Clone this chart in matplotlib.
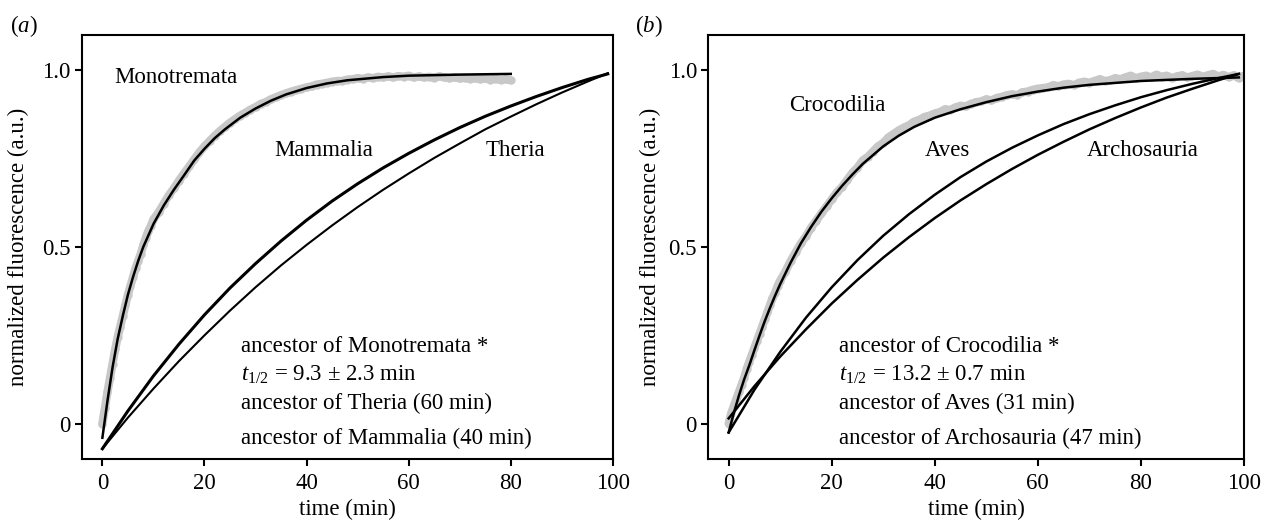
import matplotlib
matplotlib.use("Agg")
import matplotlib.pyplot as plt
import numpy as np

plt.rcParams['font.family'] = ['Liberation Serif', 'DejaVu Serif']
plt.rcParams['mathtext.fontset'] = 'custom'
plt.rcParams['mathtext.rm'] = 'Liberation Serif'
plt.rcParams['mathtext.it'] = 'Liberation Serif:italic'
FS = 16.5
plt.rcParams['font.size'] = FS

# ---- panel (a) ----
mono_t = [0, 0.5, 1, 1.5, 2, 2.5, 3, 3.5, 4, 4.5, 5, 5.5, 6, 6.5, 7, 7.5, 8, 8.5, 9, 9.5, 10,
          11, 12, 13, 14, 15, 16, 17, 18, 19, 20, 21, 22, 23, 24, 25, 26, 27, 28, 29, 30,
          31, 32, 33, 34, 35, 36, 37, 38, 39, 40, 41, 42, 43, 44, 45, 46, 47, 48, 49, 50,
          51, 52, 53, 54, 55, 56, 57, 58, 59, 60, 61, 62, 63, 64, 65, 66, 67, 68, 69, 70,
          71, 72, 73, 74, 75, 76, 77, 78, 79, 80]
mono_y = [0.00, 0.045, 0.09, 0.13, 0.17, 0.21, 0.245, 0.275, 0.305, 0.335, 0.365, 0.39, 0.415,
          0.44, 0.46, 0.48, 0.505, 0.525, 0.545, 0.56, 0.578,
          0.598, 0.622, 0.646, 0.666, 0.688, 0.708, 0.728, 0.748, 0.768, 0.785, 0.80, 0.815,
          0.828, 0.84, 0.852, 0.862, 0.872, 0.88, 0.889, 0.896, 0.905, 0.91, 0.918, 0.924,
          0.93, 0.935, 0.94, 0.944, 0.948, 0.952, 0.955, 0.96, 0.962, 0.965, 0.968, 0.97,
          0.97, 0.974, 0.975, 0.978, 0.976, 0.98, 0.978, 0.982, 0.98, 0.983, 0.98, 0.984,
          0.982, 0.985, 0.98, 0.983, 0.98, 0.982, 0.979, 0.983, 0.98, 0.978, 0.98, 0.977,
          0.979, 0.976, 0.978, 0.975, 0.977, 0.974, 0.976, 0.973, 0.975, 0.972]

mono_fit_t = [0, 1, 2, 3, 4, 5, 6, 7, 8, 10, 12, 14, 16, 18, 20, 22, 24, 27, 30, 33, 36,
              40, 44, 48, 55, 60, 70, 80]
mono_fit_y = [-0.04, 0.065, 0.16, 0.24, 0.305, 0.365, 0.415, 0.46, 0.50, 0.565, 0.617, 0.662,
              0.703, 0.745, 0.778, 0.808, 0.833, 0.866, 0.892, 0.914, 0.932, 0.95, 0.963,
              0.972, 0.981, 0.985, 0.988, 0.99]

anc_t = [0, 5, 10, 15, 20, 25, 30, 35, 40, 45, 50, 55, 60, 65, 70, 75, 80, 85, 90, 95, 99]
mammalia_y = [-0.071, 0.036, 0.135, 0.225, 0.308, 0.384, 0.453, 0.517, 0.576, 0.630, 0.679,
              0.724, 0.765, 0.803, 0.838, 0.870, 0.899, 0.926, 0.951, 0.974, 0.990]
theria_y = [-0.071, 0.017, 0.099, 0.177, 0.250, 0.320, 0.386, 0.448, 0.506, 0.561, 0.613,
            0.662, 0.708, 0.752, 0.793, 0.833, 0.869, 0.904, 0.937, 0.968, 0.992]

# ---- panel (b) ----
croc_t = [0, 0.5, 1, 1.5, 2, 2.5, 3, 3.5, 4, 4.5, 5, 5.5, 6, 6.5, 7, 7.5, 8, 8.5, 9, 9.5, 10,
          11, 12, 13, 14, 15, 16, 17, 18, 19, 20, 21, 22, 23, 24, 25, 26, 27, 28, 29, 30,
          31, 32, 33, 34, 35, 36, 37, 38, 39, 40, 41, 42, 43, 44, 45, 46, 47, 48, 49, 50,
          51, 52, 53, 54, 55, 56, 57, 58, 59, 60, 61, 62, 63, 64, 65, 66, 67, 68, 69, 70,
          71, 72, 73, 74, 75, 76, 77, 78, 79, 80, 81, 82, 83, 84, 85, 86, 87, 88, 89, 90,
          91, 92, 93, 94, 95, 96, 97, 98, 99, 99.5]
croc_y = [0.00, 0.03, 0.05, 0.07, 0.09, 0.11, 0.13, 0.155, 0.175, 0.195, 0.215, 0.235, 0.255,
          0.275, 0.295, 0.315, 0.335, 0.355, 0.37, 0.39, 0.405,
          0.43, 0.46, 0.485, 0.51, 0.53, 0.555, 0.575, 0.595, 0.615, 0.635, 0.655, 0.67,
          0.69, 0.71, 0.725, 0.745, 0.755, 0.77, 0.785, 0.795, 0.81, 0.82, 0.83, 0.838,
          0.845, 0.855, 0.86, 0.868, 0.872, 0.878, 0.882, 0.89, 0.888, 0.895, 0.90, 0.898,
          0.905, 0.91, 0.912, 0.918, 0.915, 0.922, 0.925, 0.93, 0.932, 0.93, 0.938, 0.94,
          0.945, 0.948, 0.95, 0.952, 0.958, 0.955, 0.96, 0.962, 0.958, 0.965, 0.968, 0.965,
          0.97, 0.975, 0.97, 0.972, 0.978, 0.975, 0.98, 0.985, 0.978, 0.982, 0.985, 0.98,
          0.988, 0.982, 0.985, 0.978, 0.983, 0.986, 0.98, 0.984, 0.988, 0.982, 0.986, 0.99,
          0.983, 0.987, 0.981, 0.986, 0.978, 0.983]

croc_fit_t = [0, 1, 2, 3, 4, 5, 6, 7, 8, 9, 10, 12, 14, 16, 18, 20, 22, 24, 26, 28, 30, 33,
              36, 40, 45, 50, 55, 60, 65, 70, 80, 90, 99]
croc_fit_y = [-0.025, 0.03, 0.08, 0.125, 0.165, 0.208, 0.25, 0.29, 0.327, 0.362, 0.395, 0.455,
              0.51, 0.557, 0.60, 0.638, 0.673, 0.705, 0.735, 0.76, 0.785, 0.815, 0.84, 0.866,
              0.89, 0.91, 0.927, 0.94, 0.951, 0.959, 0.97, 0.976, 0.98]

aves_y = [-0.025, 0.096, 0.203, 0.300, 0.386, 0.463, 0.532, 0.593, 0.648, 0.698, 0.742,
          0.781, 0.816, 0.848, 0.876, 0.901, 0.924, 0.944, 0.962, 0.978, 0.990]
archo_y = [0.015, 0.106, 0.190, 0.267, 0.340, 0.407, 0.470, 0.528, 0.582, 0.632, 0.678,
           0.721, 0.761, 0.798, 0.833, 0.865, 0.895, 0.923, 0.948, 0.972, 0.990]

gray = '#c8c8c8'

fig = plt.figure(figsize=(12.61, 5.23), dpi=100)
ax1 = fig.add_axes([0.065, 0.1224, 0.421, 0.8106])
ax2 = fig.add_axes([0.5615, 0.1224, 0.425, 0.8106])


def style(ax, ylab_x):
    ax.set_xlim(-4, 100)
    ax.set_ylim(-0.1, 1.1)
    ax.set_xticks([0, 20, 40, 60, 80, 100])
    ax.set_yticks([0, 0.5, 1.0])
    ax.set_yticklabels(['0', '0.5', '1.0'])
    for s in ax.spines.values():
        s.set_linewidth(1.5)
    ax.tick_params(direction='out', length=5, width=1.5, labelsize=FS)
    ax.tick_params(axis='x', pad=5)
    ax.tick_params(axis='y', pad=3)
    ax.set_xlabel('time (min)', fontsize=FS)
    ax.set_ylabel('normalized fluorescence (a.u.)', fontsize=FS)
    ax.xaxis.set_label_coords(0.5, -0.095)
    ax.yaxis.set_label_coords(ylab_x, 0.5)


# (a)
ax1.plot(mono_t, mono_y, color=gray, lw=6, solid_capstyle='round', zorder=1)
ax1.plot(mono_t, mono_y, 'o', color=gray, ms=6, mec='none', zorder=1)
ax1.plot(mono_fit_t, mono_fit_y, color='black', lw=1.8, zorder=3)
ax1.plot(anc_t, mammalia_y, color='black', lw=2.2, zorder=3)
ax1.plot(anc_t, theria_y, color='black', lw=1.5, zorder=3)
style(ax1, -0.1)
ax1.text(2.4, 0.963, 'Monotremata', va='baseline')
ax1.text(33.6, 0.759, 'Mammalia', va='baseline')
ax1.text(75, 0.759, 'Theria', va='baseline')
ax1.text(27.1, 0.203, 'ancestor of Monotremata *', va='baseline')
ax1.text(27.1, 0.122, r'$t_{1/2}$ = 9.3 ± 2.3 min', va='baseline')
ax1.text(27.1, 0.042, 'ancestor of Theria (60 min)', va='baseline')
ax1.text(27.1, -0.058, 'ancestor of Mammalia (40 min)', va='baseline')

# (b)
ax2.plot(croc_t, croc_y, color=gray, lw=6, solid_capstyle='round', zorder=1)
ax2.plot(croc_t, croc_y, 'o', color=gray, ms=6, mec='none', zorder=1)
ax2.plot(croc_fit_t, croc_fit_y, color='black', lw=1.8, zorder=3)
ax2.plot(anc_t, aves_y, color='black', lw=1.8, zorder=3)
ax2.plot(anc_t, archo_y, color='black', lw=1.8, zorder=3)
style(ax2, -0.088)
ax2.text(11.8, 0.884, 'Crocodilia', va='baseline')
ax2.text(38.1, 0.759, 'Aves', va='baseline')
ax2.text(69.5, 0.759, 'Archosauria', va='baseline')
ax2.text(21.4, 0.203, 'ancestor of Crocodilia *', va='baseline')
ax2.text(21.4, 0.122, r'$t_{1/2}$ = 13.2 ± 0.7 min', va='baseline')
ax2.text(21.4, 0.042, 'ancestor of Aves (31 min)', va='baseline')
ax2.text(21.4, -0.058, 'ancestor of Archosauria (47 min)', va='baseline')

fig.text(0.008, 0.951, r'($\mathit{a}$)', fontsize=FS, va='center')
fig.text(0.5036, 0.951, r'($\mathit{b}$)', fontsize=FS, va='center')

fig.savefig('out.png', dpi=100)
